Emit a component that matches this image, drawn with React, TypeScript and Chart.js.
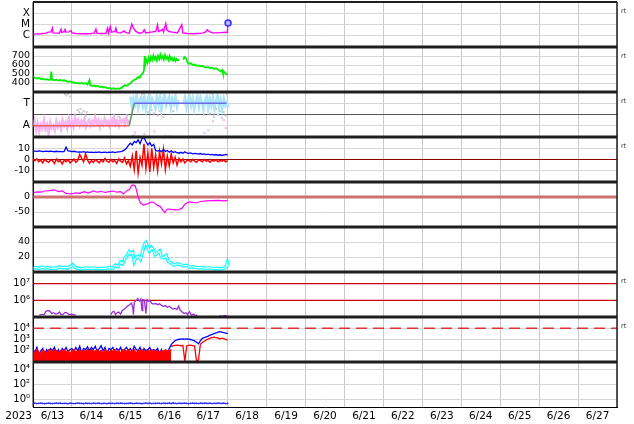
import React, { useEffect, useRef } from 'react';
import { Chart, registerables } from 'chart.js';

Chart.register(...registerables);

// ---------- axis / category data (time in days after 2023-06-13 00:00 UT) ----------
const X_MIN = 0;
const X_MAX = 15;
const dayLabels = ['6/13', '6/14', '6/15', '6/16', '6/17', '6/18', '6/19', '6/20', '6/21', '6/22', '6/23', '6/24', '6/25', '6/26', '6/27'];
const xTickValues = [0, 0.5, 1, 1.5, 2, 2.5, 3, 3.5, 4, 4.5, 5, 5.5, 6, 6.5, 7, 7.5, 8, 8.5, 9, 9.5, 10, 10.5, 11, 11.5, 12, 12.5, 13, 13.5, 14, 14.5, 15];
const yearLabel = '2023';

const gridTimes = [
  0, 0.05, 0.1, 0.15, 0.2, 0.25, 0.3, 0.35, 0.4, 0.45,
  0.5, 0.55, 0.6, 0.65, 0.7, 0.75, 0.8, 0.85, 0.9, 0.95,
  1, 1.05, 1.1, 1.15, 1.2, 1.25, 1.3, 1.35, 1.4, 1.45,
  1.5, 1.55, 1.6, 1.65, 1.7, 1.75, 1.8, 1.85, 1.9, 1.95,
  2, 2.05, 2.1, 2.15, 2.2, 2.25, 2.3, 2.35, 2.4, 2.45,
  2.5, 2.55, 2.6, 2.65, 2.7, 2.75, 2.8, 2.85, 2.9, 2.95,
  3, 3.05, 3.1, 3.15, 3.2, 3.25, 3.3, 3.35, 3.4, 3.45,
  3.5, 3.55, 3.6, 3.65, 3.7, 3.75, 3.8, 3.85, 3.9, 3.95,
  4, 4.05, 4.1, 4.15, 4.2, 4.25, 4.3, 4.35, 4.4, 4.45,
  4.5, 4.55, 4.6, 4.65, 4.7, 4.75, 4.8, 4.85, 4.9, 4.95,
  5,
];

// ---------- panel 1: X-ray flux ----------
const xrayTimes = [0, 0.206, 0.334, 0.394, 0.462, 0.497, 0.514, 0.676, 0.719, 0.736, 0.804, 0.821, 0.838, 0.933, 0.975, 1.001, 1.103, 1.232, 1.36, 1.488, 1.574, 1.616, 1.642, 1.744, 1.873, 1.915, 1.941, 1.984, 2.018, 2.103, 2.129, 2.155, 2.257, 2.343, 2.385, 2.471, 2.539, 2.582, 2.642, 2.727, 2.813, 2.856, 2.898, 3.026, 3.155, 3.197, 3.223, 3.283, 3.326, 3.351, 3.411, 3.437, 3.497, 3.582, 3.71, 3.821, 3.847, 3.967, 4.095, 4.223, 4.351, 4.437, 4.479, 4.522, 4.608, 4.736, 4.821, 4.95, 4.992, 5.01];
const xrayFlux = [
  1.4e-6, 1.5e-6, 1.7e-6, 2.1e-6, 2.2e-6, 4.8e-6, 1.8e-6, 1.7e-6, 3.9e-6, 1.9e-6,
  2.4e-6, 4.5e-6, 2.1e-6, 2.2e-6, 2.9e-6, 1.8e-6, 1.6e-6, 1.5e-6, 1.5e-6, 1.6e-6,
  1.7e-6, 3.9e-6, 1.7e-6, 1.6e-6, 1.6e-6, 4.8e-6, 1.7e-6, 6.7e-6, 2.1e-6, 2.4e-6,
  4.8e-6, 1.9e-6, 1.8e-6, 2.7e-6, 1.9e-6, 1.7e-6, 1.1e-5, 4.8e-6, 2.4e-6, 1.7e-6,
  1.9e-6, 3.4e-6, 1.8e-6, 2.1e-6, 2.4e-6, 8.9e-6, 2.4e-6, 2.9e-6, 3.9e-6, 2.1e-6,
  1.2e-5, 3.4e-6, 2.4e-6, 2.1e-6, 1.8e-6, 9.5e-6, 1.8e-6, 1.6e-6, 1.5e-6, 1.6e-6,
  1.7e-6, 2.2e-6, 3.4e-6, 2.4e-6, 1.8e-6, 1.8e-6, 1.9e-6, 2.1e-6, 1.9e-6, 1.34e-5,
];
const xrayClassTicks = [1e-6, 1e-5, 1e-4];
const xrayClassLabels = ['C', 'M', 'X'];

// ---------- panel 2: solar wind speed ----------
const windTimes = [
  0, 0.05, 0.1, 0.15, 0.2, 0.25, 0.3, 0.35, 0.4, 0.45,
  0.47, 0.49, 0.55, 0.6, 0.65, 0.7, 0.75, 0.8, 0.86, 0.9,
  0.95, 1, 1.05, 1.1, 1.15, 1.2, 1.25, 1.3, 1.35, 1.4,
  1.45, 1.47, 1.52, 1.57, 1.62, 1.67, 1.72, 1.77, 1.82, 1.87,
  1.92, 1.97, 2.02, 2.07, 2.12, 2.17, 2.22, 2.27, 2.31, 2.35,
  2.4, 2.45, 2.5, 2.55, 2.6, 2.65, 2.7, 2.74, 2.78, 2.82,
  2.85, 2.87, 2.89, 2.91, 2.94, 2.97, 3, 3.03, 3.06, 3.09,
  3.12, 3.15, 3.18, 3.21, 3.24, 3.27, 3.3, 3.33, 3.36, 3.39,
  3.42, 3.45, 3.48, 3.51, 3.54, 3.57, 3.6, 3.63, 3.66, 3.69,
  3.72, 3.76, 3.8, 3.86, 3.89, 3.93, 3.97, 4, 4.05, 4.1,
  4.15, 4.2, 4.25, 4.3, 4.35, 4.4, 4.45, 4.5, 4.55, 4.6,
  4.65, 4.7, 4.75, 4.79, 4.83, 4.86, 4.88, 4.91, 4.95, 5,
];
const windSpeed = [
  472, 458, 450, 455, 443, 447, 438, 442, 436, 440,
  526, 436, 432, 436, 428, 434, 426, 430, 420, 414,
  418, 410, 404, 398, 402, 394, 400, 392, 398, 385,
  432, 375, 368, 372, 362, 368, 355, 360, 350, 354,
  340, 345, 334, 342, 332, 340, 336, 345, 360, 375,
  368, 380, 395, 420, 435, 445, 465, 458, 490, 505,
  540, 700, 620, 660, 625, 680, 640, 690, 655, 705,
  665, 690, 650, 700, 665, 715, 672, 695, 660, 710,
  668, 690, 655, 700, 660, 680, 650, 675, 645, 668,
  652, 660, null, 660, 690, 675, 630, 612, 620, 600,
  605, 592, 596, 585, 590, 580, 572, 576, 565, 570,
  558, 562, 550, 540, 528, 545, 510, 522, 505, 490,
];
const windTicks = [400, 500, 600, 700];

// ---------- panel 3: IMF sector (T = toward, A = away) ----------
const sectorTimes = [0, 2.47, 2.6, 4.97];
const sectorValues = [-1, -1, 1, 1];
const awayTimes = [
  0, 0.04, 0.08, 0.12, 0.16, 0.2, 0.24, 0.28, 0.32, 0.36,
  0.4, 0.44, 0.48, 0.52, 0.56, 0.6, 0.64, 0.68, 0.72, 0.76,
  0.8, 0.84, 0.88, 0.92, 0.96, 1, 1.04, 1.08, 1.12, 1.16,
  1.2, 1.24, 1.28, 1.32, 1.36, 1.4, 1.44, 1.48, 1.52, 1.56,
  1.6, 1.64, 1.68, 1.72, 1.76, 1.8, 1.84, 1.88, 1.92, 1.96,
  2, 2.04, 2.08, 2.12, 2.16, 2.2, 2.24, 2.28, 2.32, 2.36,
  2.4, 2.44, 2.48,
];
const awayValues = [
  -1.1, -0.6, -1.4, -0.8, -1.5, -0.9, -1.2, -0.5, -1.3, -0.9,
  -1.6, -0.7, -1.2, -1.0, -1.4, -0.6, -1.1, -0.8, -1.3, -0.5,
  -1.0, -0.7, -1.2, -0.4, -0.9, -0.6, -1.1, -0.3, -0.8, -0.5,
  -1.0, -0.6, -0.9, -0.4, -1.1, -0.7, -0.5, -1.0, -0.6, -0.9,
  -0.3, -0.8, -0.5, -1.1, -0.6, -0.9, -0.4, -0.8, -0.6, -1.0,
  -0.5, -0.8, -0.3, -0.9, -0.6, -1.0, -0.4, -0.7, -0.5, -0.9,
  -0.3, -0.7, -0.5,
];
const towardTimes = [
  2.5, 2.54, 2.58, 2.62, 2.66, 2.7, 2.74, 2.78, 2.82, 2.86,
  2.9, 2.94, 2.98, 3.02, 3.06, 3.1, 3.14, 3.18, 3.22, 3.26,
  3.3, 3.34, 3.38, 3.42, 3.46, 3.5, 3.54, 3.58, 3.62, 3.66,
  3.7, 3.74, 3.78, 3.86, 3.9, 3.94, 3.98, 4.02, 4.06, 4.1,
  4.14, 4.18, 4.22, 4.26, 4.3, 4.34, 4.38, 4.42, 4.46, 4.5,
  4.54, 4.58, 4.62, 4.66, 4.7, 4.74, 4.78, 4.82, 4.86, 4.9,
  4.94, 4.98, 5.02,
];
const towardValues = [
  1.6, 0.7, 1.4, 0.9, 1.7, 0.6, 1.3, 1.5, 0.8, 1.6,
  0.5, 1.2, 1.7, 0.7, 1.4, 1.1, 0.6, 1.6, 0.9, 1.5,
  0.4, 1.3, 1.7, 0.8, 1.2, 1.6, 0.6, 1.4, 1.0, 1.6,
  0.7, 1.3, null, 0.9, 1.5, 0.6, 1.3, 1.6, 0.8, 1.4,
  0.5, 1.2, 1.6, 0.7, 1.5, 1.0, 0.4, 1.3, 1.6, 0.6,
  1.4, 0.8, 1.5, 0.5, 1.2, 1.7, 0.7, 1.3, 0.5, 1.4,
  0.8, 1.1, 0.6,
];
const grayTimes = [0.82, 0.86, 0.9, 0.95, 1.15, 1.18, 1.22, 1.25, 1.3, 1.35, 1.38, 2.05, 2.12, 2.2, 2.28, 2.35, 2.42, 2.55, 2.6, 2.7, 2.8, 2.85, 2.9, 2.95, 3, 3.05, 3.1, 3.15, 3.2, 3.25, 3.3, 3.35, 3.4, 3.5, 3.6, 4.5, 4.55, 4.6, 4.65, 4.7, 4.75, 4.8, 4.85, 4.9, 4.95, 4.98];
const grayValues = [1.8, 1.7, 1.85, 1.6, 0.4, 0.2, 0.5, 0.1, 0.3, -0.1, 0.2, -0.3, -0.5, -0.2, -0.6, -0.4, -0.1, -1.9, -1.85, -1.95, 1.85, 1.9, 0.5, 0.2, 1.8, 0.4, 0.1, 0.6, -0.1, 0.3, 1.9, -0.2, -1.9, -1.95, 0.3, 0.4, 0.1, 1.85, -0.2, 0.5, 0, 0.3, -0.3, 0.2, -0.1, 1.8];
const pinkOutTimes = [2.62, 2.86, 3.12, 4.4, 4.5, 4.62, 4.9, 4.95];
const pinkOutValues = [-1.6, -1.75, -1.5, -1.65, -1.4, -0.6, -0.5, -1.2];
const sectorTicks = [-1, 0, 1];
const sectorLabels = ['A', '', 'T'];

// ---------- panel 4: IMF Bt / Bz (nT) ----------
const btValues = [
  7.8, 7.5, 7.2, 7.6, 7.4, 7.0, 7.3, 7.5, 7.1, 7.4,
  7.2, 6.9, 7.3, 7.0, 7.2, 6.8, 7.1, 11.0, 7.6, 7.4,
  7.0, 7.3, 6.9, 6.6, 6.8, 6.5, 6.9, 6.4, 6.7, 6.3,
  6.6, 6.2, 6.5, 6.3, 6.8, 6.1, 6.4, 6.6, 6.2, 6.5,
  6.3, 6.7, 6.2, 6.5, 6.8, 7.0, 7.5, 8.5, 10.0, 12.5,
  14.5, 13.0, 16.0, 15.0, 17.5, 14.0, 18.5, 19.5, 16.0, 13.0,
  15.0, 12.0, 13.5, 8.0, 7.5, 8.2, 6.8, 9.0, 7.2, 8.0,
  6.5, 7.8, 6.2, 7.0, 6.0, 5.6, 6.4, 5.5, 6.8, 5.8,
  5.4, 5.8, 5.0, 5.5, 5.2, 4.8, 5.3, 4.6, 5.0, 4.4,
  4.8, 4.2, 4.6, 4.0, 4.4, 3.8, 4.2, 3.6, 4.0, 4.5, 3.8,
];
const bzValues = [
  1.5, -1.0, 0.5, -2.0, -0.5, -3.0, 0.0, -1.5, -2.5, -0.5,
  -1.0, -3.5, 0.5, -2.0, -1.0, -4.0, -0.5, -2.0, 0.0, -3.0,
  -1.5, 0.5, -2.5, -1.0, 4.5, 1.0, -2.0, 5.0, -0.5, -3.5,
  -1.0, -2.5, 0.0, -1.5, -3.0, -0.5, -2.0, 1.0, -1.5, -2.5,
  0.0, -2.0, -1.0, -3.5, 0.5, -1.5, -2.5, 1.5, -4.0, -1.0,
  -6.0, 3.0, -9.0, 8.0, -12.0, 2.0, -5.0, 14.0, -8.0, 6.0,
  -11.0, 10.0, -7.0, 4.0, -10.0, 7.0, -4.0, 9.0, -9.0, 3.0,
  -6.0, 5.0, -3.0, 2.0, -5.0, 1.0, -2.0, 0.5, -3.0, -1.0,
  -0.5, -2.0, 0.0, -1.5, -2.5, -0.5, -1.0, -2.0, 0.0, -1.5,
  -1.0, -2.5, -0.5, -1.5, 0.0, -2.0, -1.0, -1.5, -0.5, -2.0, -1.0,
];
const bzZero = 0;
const imfTicks = [-10, 0, 10];

// ---------- panel 5: Dst (nT) ----------
const dstTimes = [0, 0.1, 0.2, 0.3, 0.42, 0.55, 0.65, 0.75, 0.85, 0.98, 1.1, 1.2, 1.32, 1.42, 1.55, 1.65, 1.75, 1.85, 1.95, 2.05, 2.15, 2.25, 2.32, 2.42, 2.48, 2.53, 2.58, 2.63, 2.7, 2.76, 2.84, 2.95, 3.05, 3.12, 3.2, 3.27, 3.33, 3.38, 3.45, 3.55, 3.65, 3.75, 3.82, 3.92, 4.02, 4.1, 4.2, 4.3, 4.45, 4.6, 4.75, 4.9, 5];
const dstValues = [14, 17, 16, 20, 21, 24, 18, 20, 12, 10, 14, 12, 18, 13, 20, 16, 19, 15, 18, 20, 16, 18, 10, 22, 25, 38, 40, 36, 0, -20, -27, -22, -16, -20, -28, -32, -43, -52, -40, -41, -43, -42, -38, -22, -16, -18, -20, -15, -13, -12, -11, -13, -11];
const dstZero = 0;
const dstTicks = [-50, 0];

// ---------- panel 6: density ----------
const densTimes = [0, 0.08, 0.15, 0.22, 0.3, 0.38, 0.45, 0.52, 0.6, 0.68, 0.75, 0.82, 0.88, 0.95, 1.02, 1.08, 1.15, 1.25, 1.35, 1.45, 1.55, 1.65, 1.75, 1.85, 1.95, 2.05, 2.12, 2.18, 2.25, 2.3, 2.36, 2.42, 2.47, 2.52, 2.56, 2.6, 2.64, 2.7, 2.76, 2.82, 2.86, 2.9, 2.94, 2.99, 3.04, 3.09, 3.14, 3.19, 3.25, 3.3, 3.36, 3.42, 3.48, 3.55, 3.62, 3.7, 3.78, 3.86, 3.94, 4.02, 4.12, 4.22, 4.32, 4.42, 4.52, 4.62, 4.72, 4.82, 4.9, 4.96, 4.99, 5.01];
const densValues = [5, 6, 4.5, 6.5, 5, 6, 4.5, 5.5, 5, 7, 5.5, 6.5, 5, 7, 9.5, 6, 5, 4, 5.5, 4.5, 5.5, 4, 5, 4.5, 6, 5, 9, 7, 13, 11, 18, 22, 27, 24, 26, 14, 19, 21, 17, 28, 36, 39, 34, 28, 33, 30, 23, 25, 28, 20, 19, 22, 14, 12, 9, 11, 10, 8, 9, 6.5, 7, 5.5, 6, 5, 5.5, 4.5, 5, 4, 5, 7, 12, 7];
const densTicks = [20, 40];

// ---------- panel 7: high-energy flux (log) ----------
const purpleTimes = [0.16, 0.22, 0.29, 0.33, 0.38, 0.43, 0.48, 0.53, 0.58, 0.63, 0.68, 0.72, 0.78, 0.82, 0.87, 0.92, 1.0, 1.05, 1.1, 1.5, 2.0, 2.04, 2.08, 2.12, 2.16, 2.2, 2.25, 2.3, 2.34, 2.38, 2.43, 2.48, 2.53, 2.56, 2.58, 2.6, 2.65, 2.69, 2.73, 2.77, 2.8, 2.82, 2.86, 2.9, 2.93, 2.97, 3.0, 3.05, 3.1, 3.15, 3.2, 3.25, 3.3, 3.35, 3.4, 3.45, 3.5, 3.55, 3.6, 3.65, 3.7, 3.74, 3.78, 3.83, 3.88, 3.93, 3.97, 4.02, 4.07, 4.12, 4.17, 4.22, 4.5, 4.78, 4.85, 4.92, 4.99];
const purpleValues = [1.35e5, 1.4e5, 1.45e5, 2.2e5, 2.4e5, 2.3e5, 1.6e5, 1.8e5, 1.5e5, 1.6e5, 2.0e5, 1.4e5, 1.5e5, 1.9e5, 1.8e5, 1.4e5, 1.5e5, 1.3e5, 1.4e5, null, 1.4e5, 2.0e5, 2.2e5, 1.4e5, 1.8e5, 2.0e5, 1.5e5, 2.6e5, 2.9e5, 3.5e5, 4.5e5, 5.5e5, 6.9e5, 4.0e5, 1.4e5, 7.5e5, 1.0e6, 1.26e6, 9.0e5, 1.2e6, 2.4e5, 1.1e6, 1.05e6, 1.6e5, 1.1e6, 9.0e5, 1.0e6, 6.5e5, 6.0e5, 6.5e5, 5.5e5, 6.2e5, 5.0e5, 4.2e5, 4.8e5, 3.8e5, 4.4e5, 3.5e5, 3.0e5, 3.3e5, 2.8e5, 4.5e5, 2.6e5, 2.0e5, 1.6e5, 1.8e5, 1.4e5, 2.1e5, 1.3e5, 1.5e5, 1.2e5, 1.35e5, null, 1.15e5, 1.1e5, 1.2e5, 1.15e5];
const purpleThresholds = [1e6, 1e7];
const purpleTicks = [1e6, 1e7];
const purpleLabels = ['10⁶', '10⁷'];

// ---------- panel 8: particle flux (log) ----------
const fluxBlue = [
  126, 79, 200, 40, 100, 158, 20, 126, 79, 158,
  100, 200, 63, 126, 32, 158, 100, 200, 79, 126,
  158, 79, 200, 100, 251, 63, 158, 126, 224, 100,
  200, 126, 251, 79, 158, 282, 100, 200, 50, 158,
  126, 200, 79, 158, 100, 200, 63, 126, 200, 100,
  158, 79, 251, 126, 100, 200, 63, 158, 100, 126,
  200, 79, 126, 100, 158, 63, 126, 16, 10, 63,
  158, 350, 550, 800, 950, 1050, 1100, 1150, 1100, 1150,
  1100, 1000, 900, 750, 560, 420, 800, 1300, 1500, 1700,
  2000, 2500, 2900, 3300, 3800, 4500, 5000, 4600, 4000, 3700, 3300,
];
const fluxRedQuiet = [
  100, 63, 126, 79, 50, 110, 90, 63, 126, 100,
  79, 126, 100, 63, 110, 90, 126, 79, 100, 50,
  110, 126, 79, 100, 126, 63, 110, 90, 126, 79,
  126, 100, 90, 126, 79, 110, 63, 126, 100, 79,
  110, 90, 126, 79, 100, 63, 126, 110, 90, 126,
  79, 100, 126, 63, 110, 90, 126, 100, 79, 110,
  90, 126, 100, 79, 110, 63, 100, 90, 126, 100,
  110, 126,
];
const fluxLateTimes = [3.55, 3.6, 3.65, 3.7, 3.75, 3.8, 3.85, 3.9, 3.95, 4, 4.05, 4.1, 4.15, 4.2, 4.25, 4.3, 4.35, 4.4, 4.45, 4.5, 4.55, 4.6, 4.65, 4.7, 4.75, 4.8, 4.85, 4.9, 4.95, 5];
const fluxRedLate = [230, 280, 300, 320, 300, 280, 300, 12, 280, 300, 320, 290, 260, 12, 15, 400, 550, 700, 900, 1100, 1300, 1500, 1600, 1500, 1400, 1100, 1300, 1200, 1000, 900];
const fluxThreshold = 1e4;
const fluxTicks = [1e2, 1e3, 1e4];
const fluxLabels = ['10²', '10³', '10⁴'];

// ---------- panel 9: low flux (log) ----------
const lowFluxValues = [
  0.30, 0.32, 0.29, 0.31, 0.33, 0.30, 0.28, 0.31, 0.32, 0.30,
  0.29, 0.31, 0.33, 0.30, 0.32, 0.29, 0.31, 0.30, 0.28, 0.32,
  0.31, 0.29, 0.30, 0.33, 0.31, 0.30, 0.28, 0.32, 0.30, 0.31,
  0.29, 0.33, 0.30, 0.31, 0.32, 0.29, 0.30, 0.31, 0.28, 0.32,
  0.30, 0.31, 0.29, 0.33, 0.30, 0.32, 0.31, 0.29, 0.30, 0.31,
  0.33, 0.30, 0.29, 0.32, 0.31, 0.30, 0.28, 0.31, 0.33, 0.30,
  0.32, 0.29, 0.31, 0.30, 0.32, 0.31, 0.29, 0.33, 0.30, 0.31,
  0.32, 0.30, 0.34, 0.31, 0.29, 0.32, 0.30, 0.31, 0.33, 0.30,
  0.29, 0.31, 0.32, 0.30, 0.31, 0.29, 0.33, 0.30, 0.32, 0.31,
  0.30, 0.32, 0.29, 0.31, 0.30, 0.33, 0.31, 0.30, 0.32, 0.29, 0.31,
];
const lowTicks = [1, 1e2, 1e4];
const lowLabels = ['10⁰', '10²', '10⁴'];

// ---------- helpers ----------
const pts = (times: number[], values: (number | null)[]) => values.map((v, i) => ({ x: times[i], y: v }));
const hline = (v: number) => [{ x: X_MIN, y: v }, { x: X_MAX, y: v }];

const panelIds = ['y1', 'y2', 'y3', 'y4', 'y5', 'y6', 'y7', 'y8', 'y9'];
const rtPanels = ['y1', 'y2', 'y3', 'y4', 'y7', 'y8'];
const PLOT_TOP = 2;

const FONT = 'DejaVu Sans';

function yAxis(index: number, type: string, min: number, max: number, ticks: number[], labels: string[], fontSize: number, gridColor?: (v: number) => string) {
  return {
    type,
    min,
    max,
    position: 'left',
    stack: 'panels',
    stackWeight: 1,
    weight: 20 - index,
    offset: false,
    border: { display: true, color: '#000', width: 1 },
    grid: {
      drawTicks: false,
      lineWidth: 1,
      color: (c: any) => (gridColor && c.tick ? gridColor(c.tick.value) : '#d6d6d6'),
    },
    ticks: {
      autoSkip: false,
      padding: 3,
      color: '#000',
      font: { family: FONT, size: fontSize },
      callback: (_v: any, i: number) => labels[i],
    },
    afterBuildTicks: (axis: any) => {
      axis.ticks = ticks.map((v) => ({ value: v }));
    },
    afterFit: (axis: any) => {
      axis.width = 33;
      axis.paddingTop = 0;
      axis.paddingBottom = 0;
    },
  };
}

// Make the nine stacked panels share the plot height exactly.
const panelLayoutPlugin = {
  id: 'panelLayout',
  afterLayout(chart: any) {
    const ca = chart.chartArea;
    const bottom = ca.bottom;
    const h = (bottom - PLOT_TOP) / panelIds.length;
    ca.top = PLOT_TOP;
    ca.height = bottom - PLOT_TOP;
    panelIds.forEach((id, i) => {
      const s = chart.scales[id];
      s.top = PLOT_TOP + i * h;
      s.bottom = s.top + h;
      s.height = h;
      s.configure();
    });
  },
};

const framePlugin = {
  id: 'panelFrame',
  afterDatasetsDraw(chart: any) {
    const ctx = chart.ctx;
    const { left, right, top, bottom } = chart.chartArea;
    ctx.save();
    ctx.strokeStyle = '#1e1e1e';
    panelIds.forEach((id, i) => {
      const s = chart.scales[id];
      ctx.lineWidth = i === 0 ? 2 : 3;
      ctx.beginPath();
      ctx.moveTo(left, s.top);
      ctx.lineTo(right, s.top);
      ctx.stroke();
    });
    ctx.lineWidth = 1.5;
    ctx.beginPath();
    ctx.moveTo(right, top);
    ctx.lineTo(right, bottom);
    ctx.stroke();
    ctx.lineWidth = 1;
    ctx.beginPath();
    ctx.moveTo(left, top);
    ctx.lineTo(left, bottom);
    ctx.stroke();

    ctx.fillStyle = '#333';
    ctx.font = `6.5px "${FONT}"`;
    ctx.textAlign = 'left';
    ctx.textBaseline = 'middle';
    rtPanels.forEach((id) => {
      const s = chart.scales[id];
      ctx.fillText('rt', right + 4, s.top + 9.5);
    });

    const xs = chart.scales.x;
    ctx.fillStyle = '#000';
    ctx.font = `10.5px "${FONT}"`;
    ctx.textAlign = 'right';
    ctx.fillText(yearLabel, left - 1, xs.top + 9.5);
    ctx.restore();
  },
};

export default function App() {
  const ref = useRef<HTMLCanvasElement | null>(null);

  useEffect(() => {
    if (!ref.current) return;
    const line = (o: any) => ({ type: 'line', pointRadius: 0, borderWidth: 1.2, fill: false, spanGaps: false, ...o });
    const datasets: any[] = [
      // panel 1
      line({ label: 'X-ray', data: pts(xrayTimes, xrayFlux), yAxisID: 'y1', borderColor: '#ff00ff', borderWidth: 1.4, order: 5 }),
      line({
        label: 'latest X-ray',
        data: [{ x: xrayTimes[xrayTimes.length - 1], y: xrayFlux[xrayFlux.length - 1] }],
        yAxisID: 'y1', showLine: false, pointRadius: 3, pointBorderWidth: 1.5,
        pointBorderColor: '#3333ff', pointBackgroundColor: '#b8b8ff', order: 1,
      }),
      // panel 2
      line({ label: 'speed', data: pts(windTimes, windSpeed), yAxisID: 'y2', borderColor: '#00ee00', borderWidth: 1.8, order: 5 }),
      // panel 3
      line({ label: 'gray', data: pts(grayTimes, grayValues), yAxisID: 'y3', showLine: false, pointRadius: 1.5, pointStyle: 'rect', pointBorderWidth: 0, pointBackgroundColor: '#cccccc', order: 8 }),
      line({ label: 'away', data: pts(awayTimes, awayValues), yAxisID: 'y3', borderColor: '#f7b6ef', borderWidth: 2.6, order: 6 }),
      line({ label: 'toward', data: pts(towardTimes, towardValues), yAxisID: 'y3', borderColor: '#ade5fb', borderWidth: 2.6, order: 6 }),
      line({ label: 'pink out', data: pts(pinkOutTimes, pinkOutValues), yAxisID: 'y3', showLine: false, pointRadius: 1.5, pointStyle: 'rect', pointBorderWidth: 0, pointBackgroundColor: '#f7b6ef', order: 6 }),
      line({
        label: 'sector', data: pts(sectorTimes, sectorValues), yAxisID: 'y3', borderWidth: 1.5, borderColor: '#6a6aee', order: 3,
        segment: {
          borderColor: (c: any) => (c.p0.parsed.y < 0 && c.p1.parsed.y < 0 ? '#ee5a5a' : c.p0.parsed.y > 0 && c.p1.parsed.y > 0 ? '#6a6aee' : '#5a9a5a'),
        },
      }),
      // panel 4
      line({ label: 'Bz zero', data: hline(bzZero), yAxisID: 'y4', borderColor: '#8b0000', borderWidth: 1, order: 9 }),
      line({ label: 'Bz', data: pts(gridTimes, bzValues), yAxisID: 'y4', borderColor: '#ff0000', borderWidth: 1.5, order: 6 }),
      line({ label: 'Bt', data: pts(gridTimes, btValues), yAxisID: 'y4', borderColor: '#0000ff', borderWidth: 1.3, order: 4 }),
      // panel 5
      line({ label: 'Dst zero', data: hline(dstZero), yAxisID: 'y5', borderColor: '#cd7070', borderWidth: 3, order: 9 }),
      line({ label: 'Dst', data: pts(dstTimes, dstValues), yAxisID: 'y5', borderColor: '#ff00ff', borderWidth: 1.2, order: 5 }),
      // panel 6
      line({ label: 'density', data: pts(densTimes, densValues), yAxisID: 'y6', borderColor: '#00ffff', borderWidth: 3.4, order: 6 }),
      line({ label: 'density core', data: pts(densTimes, densValues), yAxisID: 'y6', borderColor: '#ffffff', borderWidth: 1.1, order: 5 }),
      // panel 7
      ...purpleThresholds.map((t) => line({ label: 'threshold', data: hline(t), yAxisID: 'y7', borderColor: '#cc0000', borderWidth: 1.2, order: 9 })),
      line({ label: 'purple', data: pts(purpleTimes, purpleValues), yAxisID: 'y7', borderColor: '#9a30d0', borderWidth: 1.3, order: 5 }),
      // panel 8
      line({ label: 'flux threshold', data: hline(fluxThreshold), yAxisID: 'y8', borderColor: '#dd3333', borderWidth: 1.5, borderDash: [11, 6], order: 9 }),
      line({ label: 'flux blue', data: pts(gridTimes, fluxBlue), yAxisID: 'y8', borderColor: '#0000ff', borderWidth: 1.3, order: 6 }),
      line({ label: 'flux red', data: pts(gridTimes, fluxRedQuiet), yAxisID: 'y8', borderColor: '#ff0000', backgroundColor: '#ff0000', borderWidth: 1.2, fill: 'start', order: 4 }),
      line({ label: 'flux red late', data: pts(fluxLateTimes, fluxRedLate), yAxisID: 'y8', borderColor: '#ff0000', borderWidth: 1.3, order: 4 }),
      // panel 9
      line({ label: 'low flux', data: pts(gridTimes, lowFluxValues), yAxisID: 'y9', borderColor: '#2a2aff', borderWidth: 1, pointRadius: 0.9, pointBackgroundColor: '#2a2aff', pointBorderWidth: 0, order: 5 }),
    ];

    const chart = new Chart(ref.current, {
      type: 'line',
      data: { datasets },
      options: {
        responsive: false,
        animation: false,
        events: [],
        layout: { padding: { left: 0, right: 17, top: PLOT_TOP, bottom: 0 } },
        plugins: { legend: { display: false }, tooltip: { enabled: false }, title: { display: false } },
        elements: { point: { radius: 0 }, line: { tension: 0 } },
        scales: {
          x: {
            type: 'linear',
            min: X_MIN,
            max: X_MAX,
            position: 'bottom',
            border: { display: true, color: '#000', width: 1 },
            grid: {
              drawTicks: false,
              lineWidth: 1,
              color: (c: any) => (c.tick && Number.isInteger(c.tick.value) ? '#c9c9c9' : 'rgba(0,0,0,0)'),
            },
            ticks: {
              autoSkip: false,
              maxRotation: 0,
              padding: 3,
              color: '#000',
              font: { family: FONT, size: 10.5 },
              callback: (v: any) => (Number.isInteger(v) ? '' : dayLabels[Math.floor(v)] || ''),
            },
            afterBuildTicks: (axis: any) => {
              axis.ticks = xTickValues.map((v) => ({ value: v }));
            },
            afterFit: (axis: any) => {
              axis.height = 17;
              axis.paddingLeft = 0;
              axis.paddingRight = 0;
            },
          },
          y1: yAxis(1, 'logarithmic', 1e-7, 1e-3, xrayClassTicks, xrayClassLabels, 10.5),
          y2: yAxis(2, 'linear', 300, 800, windTicks, windTicks.map(String), 9.5),
          y3: yAxis(3, 'linear', -2, 2, sectorTicks, sectorLabels, 10.5, (v) => (v === 0 ? '#555555' : '#d6d6d6')),
          y4: yAxis(4, 'linear', -20, 20, imfTicks, imfTicks.map(String), 9.5),
          y5: yAxis(5, 'linear', -100, 50, dstTicks, dstTicks.map(String), 9.5),
          y6: yAxis(6, 'linear', 0, 60, densTicks, densTicks.map(String), 9.5),
          y7: yAxis(7, 'logarithmic', 1e5, 5.0119e7, purpleTicks, purpleLabels, 10),
          y8: yAxis(8, 'logarithmic', 10, 1e5, fluxTicks, fluxLabels, 10),
          y9: yAxis(9, 'logarithmic', 0.1, 1e5, lowTicks, lowLabels, 10),
        } as any,
      },
      plugins: [panelLayoutPlugin, framePlugin],
    } as any);
    return () => chart.destroy();
  }, []);

  return (
    <div style={{ position: 'fixed', left: 0, top: 0, width: 634, height: 424, background: '#fff' }}>
      <canvas ref={ref} width={634} height={424} style={{ display: 'block', width: 634, height: 424 }} />
    </div>
  );
}
